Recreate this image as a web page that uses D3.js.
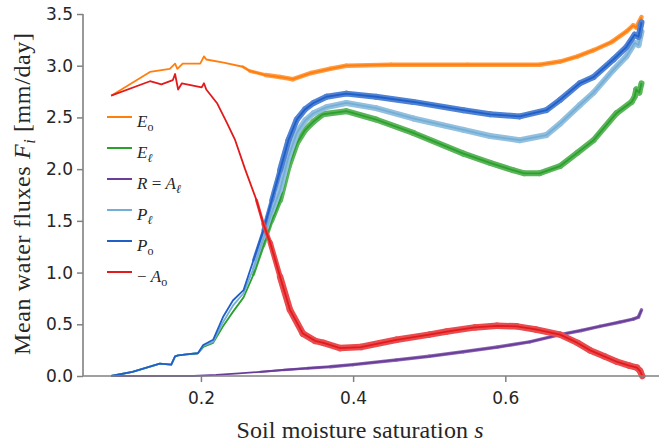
<!DOCTYPE html>
<html>
<head>
<meta charset="utf-8">
<script src="https://cdn.jsdelivr.net/npm/d3@7"></script>
<style>
  html, body { margin: 0; padding: 0; background: #fff; }
  svg { display: block; }
  .tick text { font-family: "DejaVu Sans", sans-serif; font-size: 17px; fill: #262626; }
  .serif { font-family: "Liberation Serif", "Times New Roman", serif; fill: #262626; }
</style>
</head>
<body>
<svg id="chart" width="659" height="446"></svg>
<script>
// Mean water fluxes against soil moisture saturation s, one [s, flux] list per flux.
const Eo = [
  [0.082, 2.71], [0.133, 2.94], [0.159, 2.97], [0.166, 3.02], [0.169, 2.97], [0.176, 3.02],
  [0.199, 3.02], [0.204, 3.09], [0.207, 3.06], [0.230, 3.03], [0.255, 2.99], [0.264, 2.95],
  [0.285, 2.91], [0.304, 2.89], [0.321, 2.87], [0.345, 2.93], [0.370, 2.97], [0.391, 3.00],
  [0.450, 3.01], [0.550, 3.01], [0.645, 3.01], [0.672, 3.04], [0.695, 3.09], [0.716, 3.15],
  [0.740, 3.23], [0.759, 3.33], [0.768, 3.39], [0.772, 3.37], [0.779, 3.47]
];
const El = [
  [0.082, 0.00], [0.110, 0.04], [0.146, 0.12], [0.161, 0.11], [0.166, 0.19], [0.170, 0.20],
  [0.181, 0.21], [0.196, 0.22], [0.203, 0.28], [0.216, 0.32], [0.229, 0.48], [0.242, 0.62],
  [0.256, 0.76], [0.269, 0.98], [0.282, 1.26], [0.293, 1.50], [0.304, 1.70], [0.315, 2.02],
  [0.326, 2.25], [0.337, 2.38], [0.348, 2.46], [0.360, 2.53], [0.391, 2.56], [0.430, 2.48],
  [0.479, 2.35], [0.545, 2.15], [0.580, 2.06], [0.610, 1.99], [0.625, 1.96], [0.645, 1.96],
  [0.672, 2.03], [0.695, 2.16], [0.716, 2.28], [0.746, 2.54], [0.766, 2.65], [0.770, 2.70],
  [0.772, 2.77], [0.776, 2.74], [0.779, 2.83]
];
const R = [
  [0.082, 0.00], [0.190, 0.00], [0.220, 0.01], [0.250, 0.025], [0.278, 0.04], [0.308, 0.058],
  [0.340, 0.075], [0.370, 0.09], [0.400, 0.11], [0.457, 0.155], [0.500, 0.19], [0.545, 0.235],
  [0.590, 0.28], [0.632, 0.33], [0.672, 0.40], [0.700, 0.44], [0.724, 0.48], [0.750, 0.52],
  [0.768, 0.55], [0.775, 0.57], [0.779, 0.64]
];
const Pl = [
  [0.082, 0.00], [0.110, 0.04], [0.146, 0.12], [0.161, 0.11], [0.166, 0.19], [0.170, 0.20],
  [0.181, 0.21], [0.196, 0.22], [0.203, 0.29], [0.216, 0.33], [0.229, 0.52], [0.242, 0.68],
  [0.256, 0.80], [0.269, 1.04], [0.282, 1.33], [0.293, 1.58], [0.304, 1.80], [0.315, 2.12],
  [0.326, 2.35], [0.337, 2.47], [0.348, 2.54], [0.365, 2.60], [0.391, 2.64], [0.430, 2.59],
  [0.479, 2.49], [0.545, 2.38], [0.580, 2.32], [0.619, 2.28], [0.654, 2.33], [0.672, 2.44],
  [0.698, 2.62], [0.716, 2.74], [0.742, 2.96], [0.759, 3.09], [0.770, 3.22], [0.775, 3.20],
  [0.779, 3.33]
];
const Po = [
  [0.082, 0.00], [0.110, 0.04], [0.146, 0.12], [0.161, 0.11], [0.166, 0.19], [0.170, 0.20],
  [0.181, 0.21], [0.196, 0.22], [0.203, 0.30], [0.216, 0.35], [0.229, 0.57], [0.242, 0.73],
  [0.256, 0.83], [0.269, 1.12], [0.282, 1.41], [0.293, 1.70], [0.304, 1.99], [0.315, 2.28],
  [0.326, 2.48], [0.337, 2.58], [0.348, 2.64], [0.365, 2.70], [0.391, 2.73], [0.430, 2.70],
  [0.479, 2.65], [0.545, 2.57], [0.580, 2.53], [0.619, 2.51], [0.654, 2.57], [0.672, 2.67],
  [0.698, 2.83], [0.716, 2.89], [0.742, 3.06], [0.759, 3.18], [0.770, 3.30], [0.775, 3.28],
  [0.779, 3.42]
];
const negAo = [
  [0.082, 2.71], [0.133, 2.85], [0.148, 2.82], [0.163, 2.86], [0.166, 2.92], [0.170, 2.77],
  [0.175, 2.83], [0.201, 2.79], [0.204, 2.83], [0.207, 2.77], [0.221, 2.64], [0.234, 2.45],
  [0.245, 2.28], [0.258, 2.00], [0.273, 1.70], [0.282, 1.47], [0.291, 1.29], [0.304, 0.96],
  [0.317, 0.64], [0.334, 0.41], [0.350, 0.34], [0.361, 0.32], [0.383, 0.27], [0.410, 0.28],
  [0.457, 0.35], [0.500, 0.40], [0.523, 0.43], [0.560, 0.47], [0.589, 0.485], [0.615, 0.48],
  [0.640, 0.45], [0.672, 0.40], [0.695, 0.32], [0.711, 0.25], [0.730, 0.19], [0.746, 0.14],
  [0.763, 0.10], [0.773, 0.08], [0.777, 0.05], [0.780, 0.00]
];

const xTicks = [0.2, 0.4, 0.6];
const yTicks = [0.0, 0.5, 1.0, 1.5, 2.0, 2.5, 3.0, 3.5];

// Legend order; label parts are [text, style] with style: i = italic, r = roman, sub = subscript
const series = [
  { data: Eo,    color: "#ff7f0e", label: [["E", "i"], ["o", "sub"]] },
  { data: El,    color: "#2ca02c", label: [["E", "i"], ["ℓ", "subi"]] },
  { data: R,     color: "#6a3d9a", label: [["R", "i"], [" = ", "r"], ["A", "i"], ["ℓ", "subi"]] },
  { data: Pl,    color: "#74aed6", label: [["P", "i"], ["ℓ", "subi"]] },
  { data: Po,    color: "#1f5fc8", label: [["P", "i"], ["o", "sub"]] },
  { data: negAo, color: "#e31a1c", label: [["− ", "r"], ["A", "i"], ["o", "sub"]] }
];

// Styling of the fluctuating band drawn behind each mean line:
// it widens from the line width to `width` over `ramp` segments after `from`.
const bandStyle = [
  { from: 0.24, width: 4.5, ramp: 3 },
  { from: 0.26, width: 6,   ramp: 4 },
  { from: 0.26, width: 3.5, ramp: 4 },
  { from: 0.26, width: 6,   ramp: 4 },
  { from: 0.26, width: 6,   ramp: 4 },
  { from: 0.27, width: 6.5, ramp: 4 }
];

const svg = d3.select("#chart");
const x = d3.scaleLinear().domain([0.045, 0.8]).range([83, 657.5]);
const y = d3.scaleLinear().domain([0, 3.5]).range([376, 14]);

const line = d3.line().x(d => x(d[0])).y(d => y(d[1]));

const plot = svg.append("g");
series.forEach((s, i) => {
  const b = bandStyle[i];
  const bandColor = d3.interpolateRgb(s.color, "#ffffff")(0.22);
  const g = plot.append("g");
  const startIdx = s.data.findIndex(d => d[0] >= b.from);
  for (let k = startIdx; k < s.data.length - 1; k++) {
    const step = k - startIdx + 1;
    const w = Math.min(b.width, 1.8 + (b.width - 1.8) * step / b.ramp);
    g.append("path")
      .attr("d", line([s.data[k], s.data[k + 1]]))
      .attr("fill", "none")
      .attr("stroke", bandColor)
      .attr("stroke-width", w)
      .attr("stroke-linecap", "round");
  }
  g.append("path")
    .attr("d", line(s.data))
    .attr("fill", "none")
    .attr("stroke", s.color)
    .attr("stroke-width", 1.8)
    .attr("stroke-linejoin", "round");
});

// Axes: left and bottom spines only
const axisColor = "#808080";
const gx = svg.append("g").attr("transform", "translate(0,376)")
  .call(d3.axisBottom(x).tickValues(xTicks).tickFormat(d3.format(".1f")).tickSize(6).tickPadding(10));
const gy = svg.append("g").attr("transform", "translate(83,0)")
  .call(d3.axisLeft(y).tickValues(yTicks).tickFormat(d3.format(".1f")).tickSize(6).tickPadding(4));
[gx, gy].forEach(g => {
  g.select(".domain").remove();
  g.selectAll(".tick line").attr("stroke", axisColor).attr("stroke-width", 1.5);
});
svg.append("line").attr("x1", 83).attr("x2", 83).attr("y1", y(3.5)).attr("y2", 376)
  .attr("stroke", axisColor).attr("stroke-width", 1.6);
svg.append("line").attr("x1", 83).attr("x2", 659).attr("y1", 376).attr("y2", 376)
  .attr("stroke", axisColor).attr("stroke-width", 1.6);

// Axis titles
const xl = svg.append("text").attr("class", "serif")
  .attr("x", 360).attr("y", 438).attr("text-anchor", "middle")
  .attr("font-size", 24).attr("textLength", 247).attr("lengthAdjust", "spacing");
xl.append("tspan").text("Soil moisture saturation ");
xl.append("tspan").attr("font-style", "italic").text("s");

const yl = svg.append("text").attr("class", "serif")
  .attr("transform", "translate(30,194) rotate(-90)").attr("text-anchor", "middle")
  .attr("font-size", 24).attr("textLength", 322).attr("lengthAdjust", "spacing");
yl.append("tspan").text("Mean water fluxes ");
yl.append("tspan").attr("font-style", "italic").text("F");
yl.append("tspan").attr("font-style", "italic").attr("font-size", 16).attr("dy", 5).text("i");
yl.append("tspan").attr("dy", -5).text(" [mm/day]");

// Legend
const legend = svg.append("g");
series.forEach((s, i) => {
  const ly = 117 + i * 31;
  legend.append("line").attr("x1", 107).attr("x2", 132).attr("y1", ly).attr("y2", ly)
    .attr("stroke", s.color).attr("stroke-width", 2);
  const t = legend.append("text").attr("class", "serif").attr("x", 137).attr("y", ly + 10)
    .attr("font-size", 17);
  let lowered = false;
  s.label.forEach(([txt, st]) => {
    const sp = t.append("tspan").text(txt);
    if (st === "i") sp.attr("font-style", "italic");
    if (st === "sub" || st === "subi") {
      sp.attr("font-size", 12).attr("dy", lowered ? 0 : 4);
      if (st === "subi") sp.attr("font-style", "italic");
      lowered = true;
    } else if (lowered) {
      sp.attr("dy", -4);
      lowered = false;
    }
  });
});
</script>
</body>
</html>
